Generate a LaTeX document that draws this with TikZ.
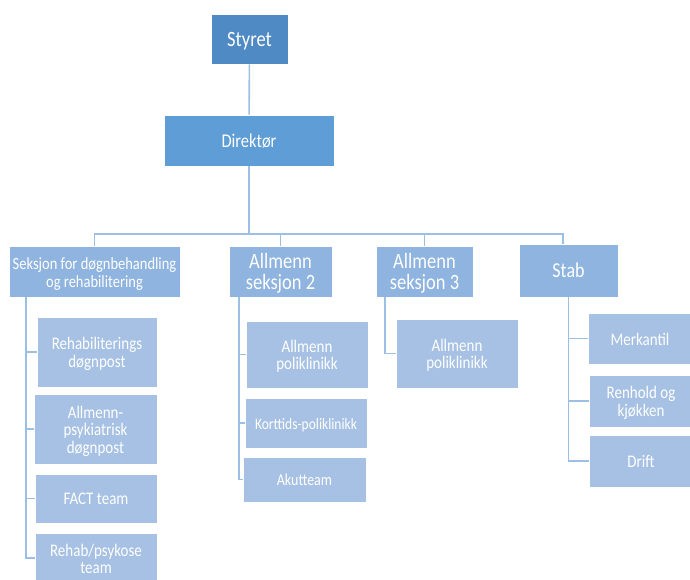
\documentclass[tikz,border=0pt]{standalone}
\usepackage{fontspec}
\setmainfont{Carlito}
\definecolor{styrecol}{HTML}{508AC4}
\definecolor{direkcol}{HTML}{5F9DD6}
\definecolor{seksjcol}{HTML}{8FB4DF}
\definecolor{enhetcol}{HTML}{A6C1E3}
\definecolor{linjecol}{HTML}{9CBFE5}
\newcommand{\hoy}[1]{\raisebox{-3pt}[\height][\depth]{\scalebox{1}[1.18]{\begin{tabular}{@{}c@{}}#1\end{tabular}}}}

\begin{document}
\begin{tikzpicture}[x=1pt,y=-1pt,
    boks/.style={draw=white,line width=0.6pt,text=white,inner sep=1pt,align=center},
    topp/.style={boks,fill=styrecol},
    direk/.style={boks,fill=direkcol},
    seksj/.style={boks,fill=seksjcol},
    enhet/.style={boks,fill=enhetcol,font=\fontsize{15}{14.5}\selectfont},
    linje/.style={linjecol,line width=1.6pt}]
    \useasboundingbox (0,0) rectangle (690,579);
    \node[topp,minimum width=77,minimum height=50,font=\fontsize{18.5}{17}\selectfont] (styret) at (249.5,39) {\hoy{Styret}};
    \node[direk,minimum width=170,minimum height=51,font=\fontsize{16.5}{15}\selectfont] (direktor) at (249,140.5) {\hoy{Direktør}};

    \node[seksj,minimum width=171,minimum height=51,font=\fontsize{14.5}{15.3}\selectfont] (seksjon) at (94.5,271.5) {\hoy{Seksjon for døgnbehandling\\og rehabilitering}};
    \node[seksj,minimum width=103,minimum height=51,font=\fontsize{18.5}{17}\selectfont] (allm2) at (280.5,271.5) {\hoy{Allmenn\\seksjon 2}};
    \node[seksj,minimum width=97,minimum height=51,font=\fontsize{18.5}{17}\selectfont] (allm3) at (424.5,271.5) {\hoy{Allmenn\\seksjon 3}};
    \node[seksj,minimum width=99,minimum height=53,font=\fontsize{18}{17}\selectfont] (stab) at (568.5,270.5) {\hoy{Stab}};

    \node[enhet,minimum width=120,minimum height=70] (rehabdp) at (97,352) {\hoy{Rehabiliterings\\døgnpost}};
    \node[enhet,minimum width=123,minimum height=70,font=\fontsize{15}{14.8}\selectfont] (allmdp) at (95.5,429) {\hoy{Allmenn-\\psykiatrisk\\døgnpost}};
    \node[enhet,minimum width=122,minimum height=49] (fact) at (96,498.5) {\hoy{FACT team}};
    \node[enhet,minimum width=122,minimum height=50] (psykose) at (96,558) {\hoy{Rehab/psykose\\team}};

    \node[enhet,minimum width=122,minimum height=67] (poli2) at (307,354.5) {\hoy{Allmenn\\poliklinikk}};
    \node[enhet,minimum width=122,minimum height=50,font=\fontsize{13.5}{14}\selectfont] (korttids) at (306,423) {\hoy{Korttids-poliklinikk}};
    \node[enhet,minimum width=123,minimum height=45,font=\fontsize{14}{14}\selectfont] (akutt) at (304.5,479.5) {\hoy{Akutteam}};

    \node[enhet,minimum width=122,minimum height=69] (poli3) at (457,353.5) {\hoy{Allmenn\\poliklinikk}};

    \node[enhet,minimum width=104,minimum height=51] (merkantil) at (640,338.5) {\hoy{Merkantil}};
    \node[enhet,minimum width=104,minimum height=52] (renhold) at (641,401) {\hoy{Renhold og\\kjøkken}};
    \node[enhet,minimum width=104,minimum height=52] (drift) at (641,461) {\hoy{Drift}};

    \coordinate (buss) at (249,234);
    \coordinate (gren1) at (26,0 |- seksjon.south);
    \coordinate (gren2) at (239,0 |- allm2.south);
    \coordinate (gren3) at (385,0 |- allm3.south);

    \draw[linje] (styret) -- (direktor);
    \draw[linje] (direktor) -- (buss);
    \draw[linje] (seksjon.north) |- (buss) -| ([xshift=-5.5pt]stab.north);
    \draw[linje] (allm2.north) -- (allm2.north |- buss);
    \draw[linje] (allm3.north) -- (allm3.north |- buss);
    \foreach \b in {rehabdp,allmdp,fact,psykose}
        \draw[linje] (gren1) |- (\b.west);
    \foreach \b in {poli2,korttids,akutt}
        \draw[linje] (gren2) |- (\b.west);
    \draw[linje] (gren3) |- (poli3.west);
    \foreach \b in {merkantil,renhold,drift}
        \draw[linje] (stab.south) |- (\b.west);
\end{tikzpicture}
\end{document}
